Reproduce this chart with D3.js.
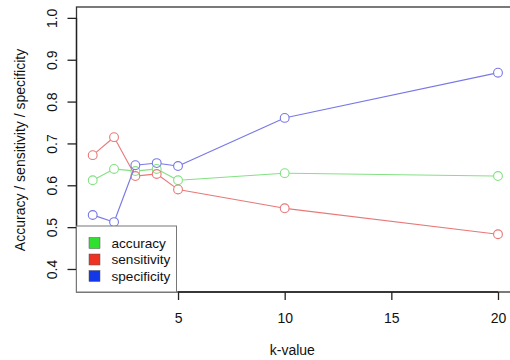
<!DOCTYPE html>
<html>
<head>
<meta charset="utf-8">
<script src="https://cdn.jsdelivr.net/npm/d3@7"></script>
<style>
  body { margin: 0; background: #fff; }
  svg { display: block; }
  svg text { font-family: "Liberation Sans", Arial, sans-serif; }
</style>
</head>
<body>
<script>
const kValues = [1, 2, 3, 4, 5, 10, 20];
const accuracy = [0.612, 0.639, 0.634, 0.639, 0.612, 0.629, 0.622];
const sensitivity = [0.672, 0.715, 0.622, 0.627, 0.590, 0.545, 0.483];
const specificity = [0.529, 0.512, 0.648, 0.653, 0.646, 0.761, 0.869];
const seriesNames = ["accuracy", "sensitivity", "specificity"];
const lineColors = ["#84e184", "#e87878", "#7878e6"];
const keyColors = ["#2fe02f", "#ee3322", "#1238e8"];
const xTicks = [5, 10, 15, 20];
const yTicks = [0.4, 0.5, 0.6, 0.7, 0.8, 0.9, 1.0];

const width = 510;
const height = 360;

const svg = d3.select("body")
    .append("svg")
    .attr("width", width)
    .attr("height", height);

const x = d3.scaleLinear().domain([0.24, 20.76]).range([76.5, 514.2]);
const y = d3.scaleLinear().domain([0.345, 1.026]).range([292, 7]);

// plot box
svg.append("rect")
    .attr("x", x(0.24)).attr("y", y(1.026))
    .attr("width", x(20.76) - x(0.24)).attr("height", y(0.345) - y(1.026))
    .attr("fill", "none").attr("stroke", "#333").attr("stroke-width", 1.3);

// axes
const xAxis = d3.axisBottom(x).tickValues(xTicks).tickSize(8).tickPadding(13).tickFormat(d3.format("d"));
svg.append("g")
    .attr("transform", `translate(0,${y(0.345)})`)
    .call(xAxis)
    .attr("font-family", null)
    .call(g => g.select(".domain").attr("d", `M${x(5)},0H${x(20)}`))
    .call(g => g.selectAll("line, path").attr("stroke", "#222").attr("stroke-width", 1.3))
    .call(g => g.selectAll("text").attr("font-size", 14).attr("fill", "#111"));

const yAxis = d3.axisLeft(y).tickValues(yTicks).tickSize(9).tickFormat(d3.format(".1f"));
svg.append("g")
    .attr("transform", `translate(${x(0.24)},0)`)
    .call(yAxis)
    .attr("font-family", null)
    .call(g => g.select(".domain").attr("d", `M0,${y(0.4)}V${y(1.0)}`))
    .call(g => g.selectAll("line, path").attr("stroke", "#222").attr("stroke-width", 1.3))
    .call(g => g.selectAll(".tick text")
        .attr("font-size", 14).attr("fill", "#111")
        .attr("x", 0).attr("y", 0).attr("dy", null)
        .attr("text-anchor", "middle")
        .attr("dominant-baseline", "central")
        .attr("transform", "translate(-25,0) rotate(-90)"));

// axis titles
svg.append("text")
    .attr("x", (x(0.24) + x(20.76)) / 2 - 3).attr("y", 355)
    .attr("text-anchor", "middle").attr("font-size", 14).attr("fill", "#111")
    .text("k-value");
svg.append("text")
    .attr("transform", `translate(20,150) rotate(-90)`)
    .attr("text-anchor", "middle").attr("dominant-baseline", "central")
    .attr("font-size", 14).attr("fill", "#111")
    .text("Accuracy / sensitivity / specificity");

// series, drawn R type="b" style (segments with gaps at the points)
const r = 4.4;
const allSeries = [accuracy, sensitivity, specificity];
allSeries.forEach((vals, i) => {
    const pts = kValues.map((k, j) => [x(k), y(vals[j])]);
    const segs = d3.pairs(pts).map(([a, b]) => {
        const dx = b[0] - a[0], dy = b[1] - a[1];
        const len = Math.hypot(dx, dy);
        const ux = dx / len, uy = dy / len;
        return [a[0] + ux * r, a[1] + uy * r, b[0] - ux * r, b[1] - uy * r, len];
    }).filter(s => s[4] > 2 * r);
    const g = svg.append("g");
    g.selectAll("line").data(segs).join("line")
        .attr("x1", s => s[0]).attr("y1", s => s[1])
        .attr("x2", s => s[2]).attr("y2", s => s[3])
        .attr("stroke", lineColors[i]).attr("stroke-width", 1.1);
    g.selectAll("circle").data(pts).join("circle")
        .attr("cx", p => p[0]).attr("cy", p => p[1]).attr("r", r)
        .attr("fill", "none").attr("stroke", lineColors[i]).attr("stroke-width", 1.1);
});

// legend
const legend = svg.append("g");
legend.append("rect")
    .attr("x", x(0.24)).attr("y", 226)
    .attr("width", 100).attr("height", y(0.345) - 226)
    .attr("fill", "#fff").attr("stroke", "#777").attr("stroke-width", 1);
seriesNames.forEach((name, i) => {
    const cy = 243 + i * 16.5;
    legend.append("rect")
        .attr("x", 89).attr("y", cy - 5.5).attr("width", 11).attr("height", 11)
        .attr("fill", keyColors[i]).attr("stroke", "#555").attr("stroke-width", 0.5);
    legend.append("text")
        .attr("x", 111.5).attr("y", cy).attr("dy", "0.35em")
        .attr("font-size", 13.6).attr("fill", "#111")
        .text(name);
});
</script>
</body>
</html>
